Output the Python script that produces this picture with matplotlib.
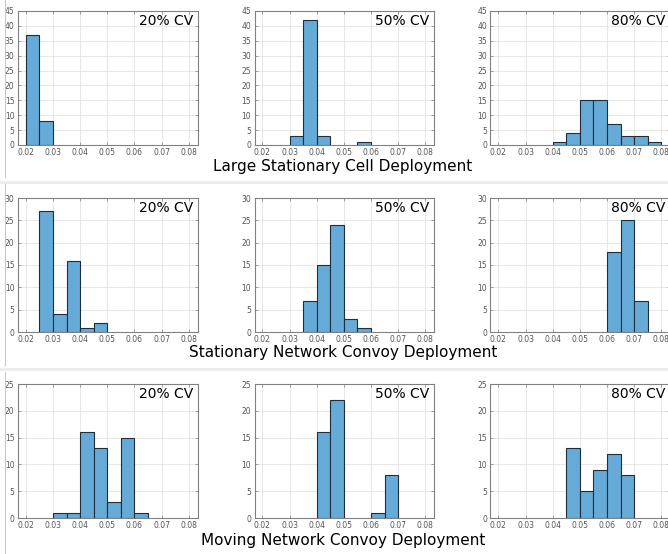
import matplotlib
matplotlib.use("Agg")
import matplotlib.pyplot as plt
from matplotlib.lines import Line2D

# ---------------- data ----------------
bin_edges = [0.020, 0.025, 0.030, 0.035, 0.040, 0.045, 0.050,
             0.055, 0.060, 0.065, 0.070, 0.075, 0.080]
bin_width = 0.005

row_titles = ["Large Stationary Cell Deployment",
              "Stationary Network Convoy Deployment",
              "Moving Network Convoy Deployment"]
panel_labels = ["20% CV", "50% CV", "80% CV"]

# counts per bin (bins start at bin_edges[:-1])
large_cell_20 = [37, 8, 0, 0, 0, 0, 0, 0, 0, 0, 0, 0]
large_cell_50 = [0, 0, 3, 42, 3, 0, 0, 1, 0, 0, 0, 0]
large_cell_80 = [0, 0, 0, 0, 1, 4, 15, 15, 7, 3, 3, 1]

stationary_20 = [0, 27, 4, 16, 1, 2, 0, 0, 0, 0, 0, 0]
stationary_50 = [0, 0, 0, 7, 15, 24, 3, 1, 0, 0, 0, 0]
stationary_80 = [0, 0, 0, 0, 0, 0, 0, 0, 18, 25, 7, 0]

moving_20 = [0, 0, 1, 1, 16, 13, 3, 15, 1, 0, 0, 0]
moving_50 = [0, 0, 0, 0, 16, 22, 0, 0, 1, 8, 0, 0]
moving_80 = [0, 0, 0, 0, 0, 13, 5, 9, 12, 8, 0, 0]

rows = [[large_cell_20, large_cell_50, large_cell_80],
        [stationary_20, stationary_50, stationary_80],
        [moving_20, moving_50, moving_80]]

row_ymax = [45, 30, 25]
y_step = 5
xticks = [0.02, 0.03, 0.04, 0.05, 0.06, 0.07, 0.08]
xtick_labels = ["0.02", "0.03", "0.04", "0.05", "0.06", "0.07", "0.08"]
xlim = (0.0171, 0.0832)

# ---------------- layout (pixels) ----------------
W, H = 668, 554
fig = plt.figure(figsize=(W / 100, H / 100), dpi=100)
fig.patch.set_facecolor("white")

ax_lefts = [18, 254.5, 490.5]
ax_w = 179.5
ax_h = 134
row_tops = [11, 198, 384]
title_y = [166, 352, 541]

face = "#66aad8"
edge = "#1e2e3c"
frame = "#808080"

def px_rect(left, top, w, h):
    return [left / W, 1 - (top + h) / H, w / W, h / H]

for r in range(3):
    for c in range(3):
        ax = fig.add_axes(px_rect(ax_lefts[c], row_tops[r], ax_w, ax_h))
        counts = rows[r][c]
        lefts = [bin_edges[i] for i in range(len(counts)) if counts[i] > 0]
        vals = [counts[i] for i in range(len(counts)) if counts[i] > 0]
        ax.bar(lefts, vals, width=bin_width, align="edge",
               color=face, edgecolor=edge, linewidth=0.8, zorder=3)
        ax.set_xlim(*xlim)
        ax.set_ylim(0, row_ymax[r])
        ax.set_xticks(xticks)
        ax.set_xticklabels(xtick_labels)
        ax.set_yticks(list(range(0, row_ymax[r] + 1, y_step)))
        ax.grid(True, color="#e3e3e3", linewidth=0.6, zorder=0)
        ax.set_axisbelow(True)
        ax.tick_params(direction="in", length=2.5, width=0.5, top=True,
                       right=True, colors=frame, labelcolor="#555555",
                       labelsize=5.5, pad=2.5)
        for s in ax.spines.values():
            s.set_color(frame)
            s.set_linewidth(0.8)
        ax.text(0.975, 0.975, panel_labels[c], transform=ax.transAxes,
                ha="right", va="top", fontsize=10, color="black",
                family="DejaVu Sans")
    fig.text(343 / W, 1 - title_y[r] / H, row_titles[r], ha="center",
             va="center", fontsize=11, color="black", family="DejaVu Sans")

# light separator bands and left border lines of the stitched screenshots
for yy in [181.5, 369]:
    fig.add_artist(Line2D([0, 1], [1 - yy / H, 1 - yy / H],
                          transform=fig.transFigure, color="#ececec",
                          linewidth=2.2))
for (y0, y1) in [(0, 177), (184, 365), (372, 554)]:
    fig.add_artist(Line2D([5 / W, 5 / W], [1 - y0 / H, 1 - y1 / H],
                          transform=fig.transFigure, color="#c8c8c8",
                          linewidth=0.8))

fig.savefig("out.png", dpi=100, facecolor="white")
